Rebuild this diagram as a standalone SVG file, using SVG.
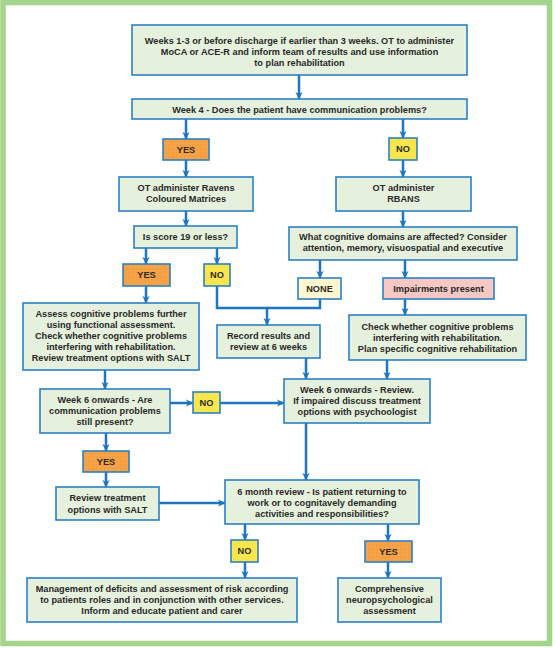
<svg xmlns="http://www.w3.org/2000/svg" width="553" height="648" viewBox="0 0 553 648">
<defs>
<style>
.box{fill:#e5f1dc;stroke:#2b80c5;stroke-width:1.6}
.yes{fill:url(#dots);stroke:#2b80c5;stroke-width:1.6}
.no{fill:#f8e64c;stroke:#2b80c5;stroke-width:1.6}
.none{fill:#fdf6cf;stroke:#2b80c5;stroke-width:1.6}
.imp{fill:#f5c8c4;stroke:#2b80c5;stroke-width:1.6}
text{font-family:"Liberation Sans",Arial,sans-serif;font-weight:bold;font-size:9.2px;fill:#2a2a2a;text-anchor:middle}
.c path,.c line,.c polyline{fill:none;stroke:#1d76bf;stroke-width:2.5}
</style>
<pattern id="dots" width="4" height="4" patternUnits="userSpaceOnUse">
<rect width="4" height="4" fill="#f6a144"/>
<circle cx="1" cy="1" r="0.45" fill="#d98a32"/>
<circle cx="3" cy="3" r="0.45" fill="#fbc27a"/>
</pattern>
<marker id="ah" viewBox="0 0 10 10" refX="9" refY="5" markerWidth="8" markerHeight="8" markerUnits="userSpaceOnUse" orient="auto">
<path d="M0,0.5 L10,5 L0,9.5 L3,5 z" fill="#1d76bf"/>
</marker>
</defs>
<rect x="0" y="0" width="553" height="648" fill="#ffffff"/>
<rect x="3" y="2.5" width="546.5" height="641" fill="#ffffff" stroke="#a5d48d" stroke-width="5.5"/>

<g class="c" id="connectors">
<line x1="299" y1="75" x2="299" y2="99" marker-end="url(#ah)"/>
<line x1="186" y1="119" x2="186" y2="139" marker-end="url(#ah)"/>
<line x1="403" y1="119" x2="403" y2="138" marker-end="url(#ah)"/>
<line x1="186" y1="160" x2="186" y2="177" marker-end="url(#ah)"/>
<line x1="403" y1="160" x2="403" y2="177" marker-end="url(#ah)"/>
<line x1="186" y1="211" x2="186" y2="226" marker-end="url(#ah)"/>
<line x1="403" y1="211" x2="403" y2="227" marker-end="url(#ah)"/>
<line x1="146" y1="248" x2="146" y2="264" marker-end="url(#ah)"/>
<line x1="217" y1="248" x2="217" y2="264" marker-end="url(#ah)"/>
<line x1="320" y1="260" x2="320" y2="278" marker-end="url(#ah)"/>
<line x1="405" y1="260" x2="405" y2="278" marker-end="url(#ah)"/>
<line x1="146" y1="286" x2="146" y2="303" marker-end="url(#ah)"/>
<polyline points="217,286 217,308 267,308 267,325" marker-end="url(#ah)"/>
<polyline points="320,299 320,308 267,308"/>
<line x1="405" y1="299" x2="405" y2="315" marker-end="url(#ah)"/>
<line x1="105" y1="370" x2="105" y2="389" marker-end="url(#ah)"/>
<line x1="170" y1="403" x2="193" y2="403" marker-end="url(#ah)"/>
<line x1="220" y1="403" x2="284" y2="403" marker-end="url(#ah)"/>
<line x1="306" y1="358" x2="306" y2="379" marker-end="url(#ah)"/>
<line x1="387" y1="360" x2="387" y2="379" marker-end="url(#ah)"/>
<line x1="106" y1="433" x2="106" y2="451" marker-end="url(#ah)"/>
<line x1="106" y1="472" x2="106" y2="487" marker-end="url(#ah)"/>
<line x1="159" y1="503" x2="225" y2="503" marker-end="url(#ah)"/>
<line x1="306" y1="423" x2="306" y2="480" marker-end="url(#ah)"/>
<line x1="245" y1="524" x2="245" y2="540" marker-end="url(#ah)"/>
<line x1="388" y1="524" x2="388" y2="541" marker-end="url(#ah)"/>
<line x1="245" y1="562" x2="245" y2="578" marker-end="url(#ah)"/>
<line x1="388" y1="562" x2="388" y2="578" marker-end="url(#ah)"/>
</g>

<g id="n-start">
<rect class="box" x="132" y="25" width="335" height="50"/>
<text x="299.5" y="44">Weeks 1-3 or before discharge if earlier than 3 weeks. OT to administer</text>
<text x="299.5" y="55">MoCA or ACE-R and inform team of results and use information</text>
<text x="299.5" y="66">to plan rehabilitation</text>
</g>
<g id="n-week4">
<rect class="box" x="132" y="99" width="335" height="20"/>
<text x="299.5" y="113">Week 4 - Does the patient have communication problems?</text>
</g>
<g id="n-yes1">
<rect class="yes" x="163" y="139" width="46" height="21"/>
<text x="186" y="152.8">YES</text>
</g>
<g id="n-no1">
<rect class="no" x="389" y="138" width="28" height="22"/>
<text x="403" y="152.3">NO</text>
</g>
<g id="n-ravens">
<rect class="box" x="119" y="177" width="134" height="34"/>
<text x="186" y="191.3">OT administer Ravens</text>
<text x="186" y="202.3">Coloured Matrices</text>
</g>
<g id="n-rbans">
<rect class="box" x="336" y="177" width="135" height="34"/>
<text x="403.5" y="191.3">OT administer</text>
<text x="403.5" y="202.3">RBANS</text>
</g>
<g id="n-score">
<rect class="box" x="134" y="226" width="103" height="22"/>
<text x="185.5" y="240.3">Is score 19 or less?</text>
</g>
<g id="n-domains">
<rect class="box" x="289" y="227" width="228" height="33"/>
<text x="403" y="240.3">What cognitive domains are affected? Consider</text>
<text x="403" y="251.3">attention, memory, visuospatial and executive</text>
</g>
<g id="n-yes2">
<rect class="yes" x="123" y="264" width="47" height="22"/>
<text x="146.5" y="278.3">YES</text>
</g>
<g id="n-no2">
<rect class="no" x="204" y="264" width="26" height="22"/>
<text x="217" y="278.3">NO</text>
</g>
<g id="n-none">
<rect class="none" x="298" y="278" width="43" height="21"/>
<text x="319.5" y="291.8">NONE</text>
</g>
<g id="n-impair">
<rect class="imp" x="383" y="278" width="111" height="21"/>
<text x="438.5" y="291.8">Impairments present</text>
</g>
<g id="n-assess">
<rect class="box" x="23" y="303" width="176" height="67"/>
<text x="111" y="317.3">Assess cognitive problems further</text>
<text x="111" y="328.3">using functional assessment.</text>
<text x="111" y="339.3">Check whether cognitive problems</text>
<text x="111" y="350.3">interfering with rehabilitation.</text>
<text x="111" y="361.3">Review treatment options with SALT</text>
</g>
<g id="n-record">
<rect class="box" x="217" y="325" width="103" height="33"/>
<text x="268.5" y="339.3">Record results and</text>
<text x="268.5" y="350.3">review at 6 weeks</text>
</g>
<g id="n-check">
<rect class="box" x="349" y="315" width="177" height="45"/>
<text x="437.5" y="330.3">Check whether cognitive problems</text>
<text x="437.5" y="341.3">interfering with rehabilitation.</text>
<text x="437.5" y="352.3">Plan specific cognitive rehabilitation</text>
</g>
<g id="n-week6comm">
<rect class="box" x="40" y="389" width="130" height="44"/>
<text x="105" y="403.3">Week 6 onwards - Are</text>
<text x="105" y="414.3">communication problems</text>
<text x="105" y="425.3">still present?</text>
</g>
<g id="n-no3">
<rect class="no" x="193" y="392" width="27" height="21"/>
<text x="206.5" y="405.8">NO</text>
</g>
<g id="n-week6review">
<rect class="box" x="284" y="379" width="146" height="44"/>
<text x="357" y="393.3">Week 6 onwards - Review.</text>
<text x="357" y="404.3">If impaired discuss treatment</text>
<text x="357" y="415.3">options with psychoologist</text>
</g>
<g id="n-yes3">
<rect class="yes" x="83" y="451" width="46" height="21"/>
<text x="106" y="464.8">YES</text>
</g>
<g id="n-salt">
<rect class="box" x="56" y="487" width="103" height="33"/>
<text x="107.5" y="501.3">Review treatment</text>
<text x="107.5" y="512.8">options with SALT</text>
</g>
<g id="n-6month">
<rect class="box" x="225" y="480" width="194" height="44"/>
<text x="322" y="495.3">6 month review - Is patient returning to</text>
<text x="322" y="506.3">work or to cognitavely demanding</text>
<text x="322" y="517.3">activities and responsibilities?</text>
</g>
<g id="n-no4">
<rect class="no" x="231" y="540" width="27" height="22"/>
<text x="244.5" y="554.3">NO</text>
</g>
<g id="n-yes4">
<rect class="yes" x="365" y="541" width="47" height="21"/>
<text x="388.5" y="554.8">YES</text>
</g>
<g id="n-mgmt">
<rect class="box" x="27" y="578" width="270" height="44"/>
<text x="162" y="592.3">Management of deficits and assessment of risk according</text>
<text x="162" y="603.3">to patients roles and in conjunction with other services.</text>
<text x="162" y="614.3">Inform and educate patient and carer</text>
</g>
<g id="n-comp">
<rect class="box" x="338" y="578" width="103" height="44"/>
<text x="389.5" y="592.3">Comprehensive</text>
<text x="389.5" y="603.3">neuropsychological</text>
<text x="389.5" y="614.3">assessment</text>
</g>
</svg>
